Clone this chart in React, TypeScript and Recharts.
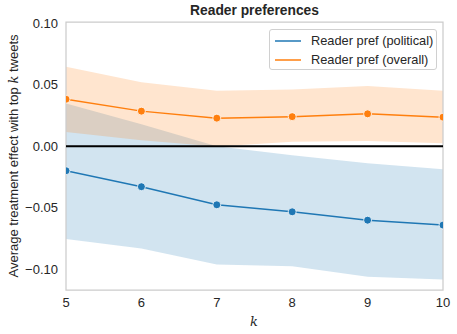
import {
  ComposedChart,
  Area,
  Line,
  XAxis,
  YAxis,
  ReferenceLine,
  ReferenceArea,
} from "recharts";

const ks = [5, 6, 7, 8, 9, 10];
const politicalMean = [-0.02, -0.033, -0.0477, -0.0534, -0.0602, -0.0642];
const politicalLow = [-0.0756, -0.0832, -0.0962, -0.0976, -0.1063, -0.1084];
const politicalHigh = [0.0347, 0.0179, 0.0, -0.0073, -0.0138, -0.0188];
const overallMean = [0.0382, 0.0285, 0.0228, 0.024, 0.0263, 0.0236];
const overallLow = [0.0116, 0.0049, -0.0002, 0.0035, 0.0043, 0.0024];
const overallHigh = [0.0645, 0.052, 0.045, 0.046, 0.049, 0.045];
const yTicks = [-0.1, -0.05, 0, 0.05, 0.1];
const seriesNames = ["Reader pref (political)", "Reader pref (overall)"];

const BLUE = "#1f77b4";
const ORANGE = "#ff7f0e";
const FONT = '"Liberation Sans", Arial, sans-serif';

const data = ks.map((k, i) => ({
  k,
  political: politicalMean[i],
  politicalBand: [politicalLow[i], politicalHigh[i]],
  overall: overallMean[i],
  overallBand: [overallLow[i], overallHigh[i]],
}));

const fmt = (v: number) => (v < 0 ? "\u2212" : "") + Math.abs(v).toFixed(2);

function LegendBox() {
  const colors = [BLUE, ORANGE];
  return (
    <div
      style={{
        position: "absolute",
        left: 269,
        top: 29,
        width: 168,
        height: 41,
        boxSizing: "border-box",
        border: "1px solid #d0d0d0",
        borderRadius: 3,
        background: "rgba(255,255,255,0.8)",
        padding: "1px 0 0 4px",
        fontFamily: FONT,
        fontSize: 12.8,
        color: "#262626",
        whiteSpace: "nowrap",
      }}
    >
      {seriesNames.map((name, i) => (
        <div key={name} style={{ display: "flex", alignItems: "center", height: 19 }}>
          <svg width={28} height={4} style={{ marginRight: 9, flex: "none" }}>
            <line x1={1} x2={27} y1={2} y2={2} stroke={colors[i]} strokeWidth={1.5} />
          </svg>
          <span>{name}</span>
        </div>
      ))}
    </div>
  );
}

const dotStyle = (color: string) => ({
  r: 4,
  fill: color,
  stroke: "#fff",
  strokeWidth: 0.8,
});

export default function App() {
  return (
    <div style={{ position: "absolute", left: 0, top: 0, width: 457, height: 334, background: "#fff" }}>
      <div
        style={{
          position: "absolute",
          left: 66,
          width: 377,
          top: 3,
          textAlign: "center",
          fontFamily: FONT,
          fontWeight: "bold",
          fontSize: 13.8,
          color: "#262626",
        }}
      >
        Reader preferences
      </div>
      <ComposedChart
        width={457}
        height={334}
        data={data}
        margin={{ top: 22, right: 14, bottom: 0, left: 0 }}
      >
        <XAxis
          dataKey="k"
          type="number"
          domain={[5, 10]}
          ticks={ks}
          allowDataOverflow
          axisLine={false}
          tickLine={false}
          tickSize={0}
          tickMargin={8}
          height={44}
          tick={{ fontFamily: FONT, fontSize: 13, fill: "#262626" }}
          label={{
            content: () => (
              <text
                x={254}
                y={326}
                textAnchor="middle"
                fontFamily='"DejaVu Serif", serif'
                fontStyle="italic"
                fontSize={13}
                fill="#262626"
              >
                k
              </text>
            ),
          }}
        />
        <YAxis
          type="number"
          domain={[-0.117, 0.101]}
          ticks={yTicks}
          allowDataOverflow
          axisLine={false}
          tickLine={false}
          tickSize={0}
          tickMargin={8}
          width={66}
          tickFormatter={fmt}
          tick={{ fontFamily: FONT, fontSize: 13, fill: "#262626" }}
          label={{
            content: () => (
              <text
                x={0}
                y={0}
                transform="translate(18,156) rotate(-90)"
                textAnchor="middle"
                fontFamily={FONT}
                fontSize={13}
                fill="#262626"
              >
                Average treatment effect with top{" "}
                <tspan fontFamily='"DejaVu Serif", serif' fontStyle="italic">
                  k
                </tspan>{" "}
                tweets
              </text>
            ),
          }}
        />
        <Area
          type="linear"
          dataKey="politicalBand"
          stroke="none"
          fill={BLUE}
          fillOpacity={0.2}
          isAnimationActive={false}
        />
        <Line
          type="linear"
          dataKey="political"
          name={seriesNames[0]}
          stroke={BLUE}
          strokeWidth={1.5}
          dot={dotStyle(BLUE)}
          activeDot={false}
          isAnimationActive={false}
        />
        <Area
          type="linear"
          dataKey="overallBand"
          stroke="none"
          fill={ORANGE}
          fillOpacity={0.2}
          isAnimationActive={false}
        />
        <Line
          type="linear"
          dataKey="overall"
          name={seriesNames[1]}
          stroke={ORANGE}
          strokeWidth={1.5}
          dot={dotStyle(ORANGE)}
          activeDot={false}
          isAnimationActive={false}
        />
        <ReferenceLine y={0} stroke="#000" strokeWidth={2} />
        <ReferenceArea
          x1={5}
          x2={10}
          y1={-0.117}
          y2={0.101}
          fill="none"
          stroke="#cccccc"
          strokeWidth={1.25}
        />
      </ComposedChart>
      <LegendBox />
    </div>
  );
}
